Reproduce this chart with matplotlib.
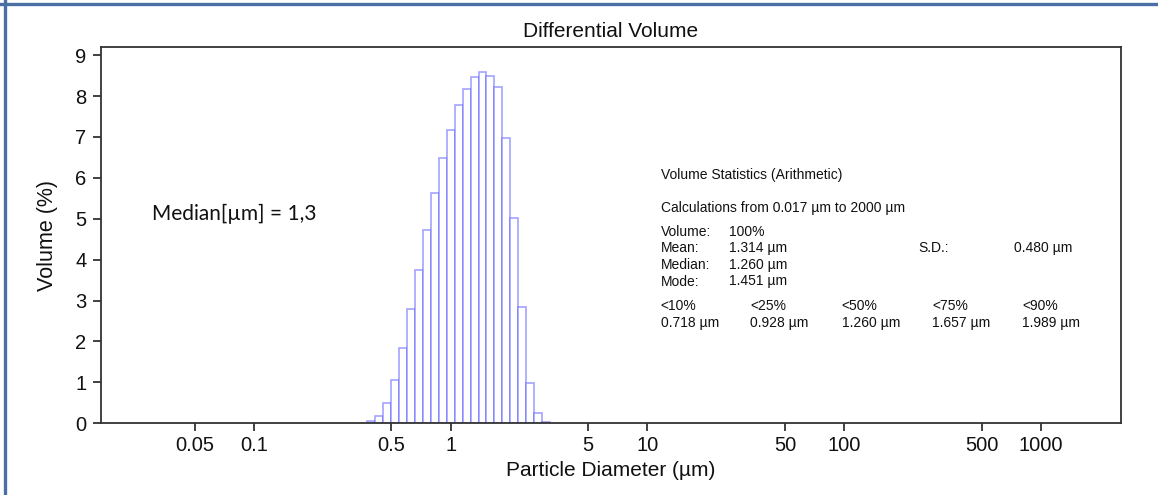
import matplotlib
matplotlib.use("Agg")
import matplotlib.pyplot as plt
from matplotlib.lines import Line2D
from matplotlib.ticker import FixedLocator, NullLocator

# Channel edges (µm) of the size classes and the volume share (%) in each class
bin_edges = [0.375, 0.412, 0.452, 0.496, 0.545, 0.598, 0.657, 0.721, 0.791,
             0.869, 0.954, 1.047, 1.149, 1.261, 1.385, 1.520, 1.669, 1.832,
             2.011, 2.208, 2.423, 2.660, 2.920, 3.206]
volume_pct = [0.05, 0.17, 0.50, 1.05, 1.85, 2.79, 3.74, 4.73, 5.64, 6.48,
              7.17, 7.77, 8.18, 8.47, 8.59, 8.50, 8.23, 6.97, 5.02, 2.85,
              0.99, 0.24, 0.02]

x_ticks = [0.05, 0.1, 0.5, 1, 5, 10, 50, 100, 500, 1000]
x_tick_labels = ["0.05", "0.1", "0.5", "1", "5", "10", "50", "100", "500", "1000"]
y_ticks = [0, 1, 2, 3, 4, 5, 6, 7, 8, 9]

stats_title = "Volume Statistics (Arithmetic)"
stats_range = "Calculations from 0.017 µm to 2000 µm"
stats_rows = [("Volume:", "100%"), ("Mean:", "1.314 µm"),
              ("Median:", "1.260 µm"), ("Mode:", "1.451 µm")]
sd_label, sd_value = "S.D.:", "0.480 µm"
pct_labels = ["<10%", "<25%", "<50%", "<75%", "<90%"]
pct_values = ["0.718 µm", "0.928 µm", "1.260 µm", "1.657 µm", "1.989 µm"]
median_note = "Median[µm] = 1,3"

plt.rcParams["font.family"] = ["Liberation Sans", "DejaVu Sans"]

W, H = 1158, 495
fig = plt.figure(figsize=(W / 100, H / 100), dpi=100)
fig.patch.set_facecolor("white")


def fx(px):
    return px / W


def fy(py):
    return 1 - py / H


ax = fig.add_axes([fx(101), fy(423.3), fx(1121) - fx(101), fy(47) - fy(423.3)])

lefts = bin_edges[:-1]
widths = [b - a for a, b in zip(bin_edges[:-1], bin_edges[1:])]
ax.bar(lefts, volume_pct, width=widths, align="edge", facecolor="white",
       edgecolor=(0.35, 0.35, 1.0, 0.55), linewidth=1.2, zorder=2)

ax.set_xscale("log")
ax.set_xlim(0.0167, 2550)
ax.set_ylim(0, 9.2)
ax.xaxis.set_major_locator(FixedLocator(x_ticks))
ax.xaxis.set_minor_locator(NullLocator())
ax.set_xticklabels(x_tick_labels)
ax.set_yticks(y_ticks)

for s in ax.spines.values():
    s.set_color("#333333")
    s.set_linewidth(1.3)
    s.set_zorder(3)
ax.tick_params(axis="both", direction="out", length=5.5, width=1.3,
               color="#333333", labelsize=14.5, labelcolor="#111111")
ax.tick_params(axis="x", pad=4)
ax.tick_params(axis="y", pad=5)
ax.tick_params(top=False, right=False)

ax.set_title("Differential Volume", fontsize=15, pad=7.5, color="#111111")
ax.set_xlabel("Particle Diameter (µm)", fontsize=15, labelpad=4, color="#111111")
ax.set_ylabel("Volume (%)", fontsize=15.5, labelpad=12, color="#111111")

# Statistics panel (positions are text baselines in pixels)
fs = 10
tc = "#111111"


def stat(xp, yp, s):
    fig.text(fx(xp), fy(yp), s, fontsize=fs, va="baseline", color=tc)


stat(660.7, 179, stats_title)
stat(660.7, 212, stats_range)
row_y = [236, 252.5, 269, 285.5]
for (lab, val), yy in zip(stats_rows, row_y):
    stat(660.7, yy, lab)
    stat(729, yy, val)
stat(918, 252.5, sd_label)
stat(1014, 252.5, sd_value)
pct_x = [660.7, 750, 841.5, 932, 1022]
for lab, val, xx in zip(pct_labels, pct_values, pct_x):
    stat(xx, 310.5, lab)
    stat(xx, 327, val)

fig.text(fx(152), fy(214), median_note, fontsize=15, va="center",
         color="#111111", family=["Lato", "DejaVu Sans"])

# Frame lines along the top and left edges of the figure
frame_c = "#4a6fa5"
fig.add_artist(Line2D([0, 1], [fy(4), fy(4)], transform=fig.transFigure,
                      color=frame_c, linewidth=2.4))
fig.add_artist(Line2D([fx(4.5), fx(4.5)], [0, 1], transform=fig.transFigure,
                      color=frame_c, linewidth=2.4))

fig.savefig("out.png", dpi=100, facecolor="white")
